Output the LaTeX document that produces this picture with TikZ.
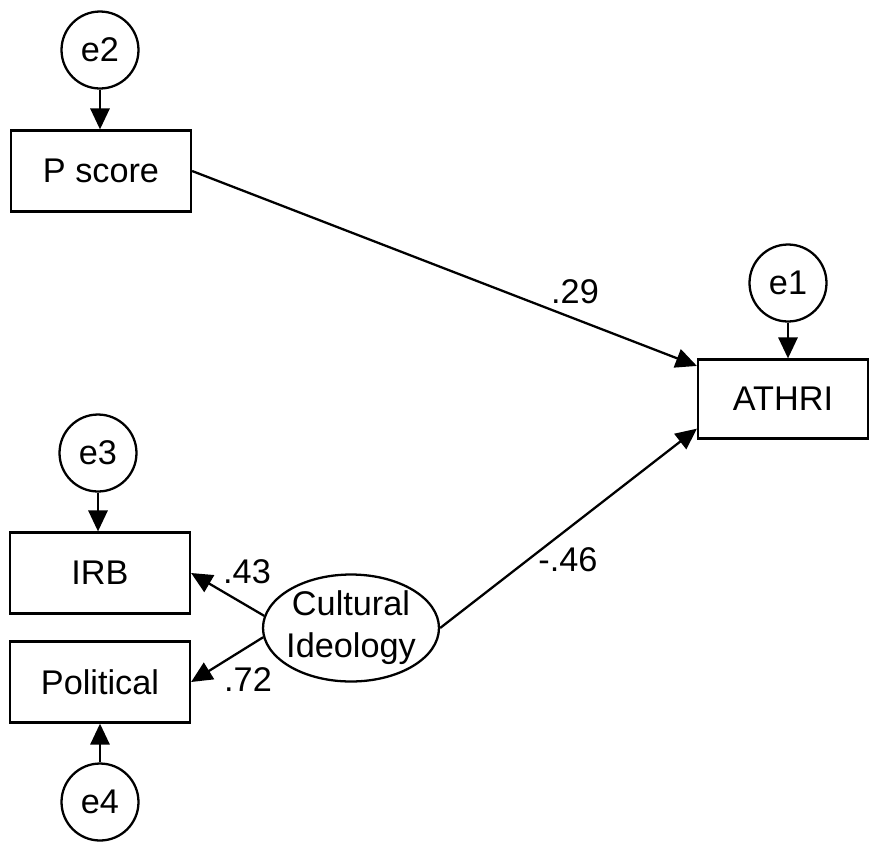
\documentclass[tikz,border=0pt]{standalone}
\usepackage{fontspec}
\setmainfont{Liberation Sans}
\usetikzlibrary{arrows.meta,shapes.geometric}

\begin{document}
\begin{tikzpicture}[x=0.02cm,y=-0.02cm,font=\fontsize{19.5}{24}\selectfont]

\tikzset{obs/.style = {shape=rectangle,draw,line width=1.3pt,minimum width=3.6cm,minimum height=1.62cm,inner sep=0pt}}
\tikzset{err/.style = {shape=circle,draw,line width=1.3pt,minimum size=1.54cm,inner sep=0pt}}
\tikzset{latent/.style = {shape=ellipse,draw,line width=1.3pt,minimum width=3.52cm,minimum height=2.14cm,inner sep=0pt}}
\tikzset{edge/.style = {-{Triangle[length=12pt,width=11pt]},line width=1.3pt}}
\tikzset{coef/.style = {inner sep=0pt}}

\useasboundingbox (0,0) rectangle (869,843);
% vertices
\node[err] (e2) at (100,50) {e2};
\node[obs] (pscore) at (101,171) {P score};
\node[err] (e1) at (788,283) {e1};
\node[obs,minimum width=3.4cm,minimum height=1.58cm] (athri) at (783,399) {ATHRI};
\node[err] (e3) at (98,453) {e3};
\node[obs] (irb) at (100,573) {IRB};
\node[obs] (political) at (100,682) {Political};
\node[err] (e4) at (100,802) {e4};
\node[latent] (cult) at (351,628) {};
\node[align=center] (cultlabel) at (cult) {Cultural\\Ideology};
% coefficients
\node[coef] (c29) at (575,292) {.29};
\node[coef] (c46) at (568,560) {-.46};
\node[coef] (c43) at (247,572) {.43};
\node[coef] (c72) at (248,680) {.72};
%edges
\draw[edge] (e2) -- (e2 |- pscore.north);
\draw[edge] (e1) -- (e1 |- athri.north);
\draw[edge] (e3) -- (e3 |- irb.north);
\draw[edge] (e4) -- (e4 |- political.south);
\draw[edge] (pscore.east) -- (athri.159);
\draw[edge] (cult.east) -- (athri.199);
\draw[edge] (cult.172) -- (irb.east);
\draw[edge] (cult.186) -- (political.east);
\end{tikzpicture}
\end{document}
